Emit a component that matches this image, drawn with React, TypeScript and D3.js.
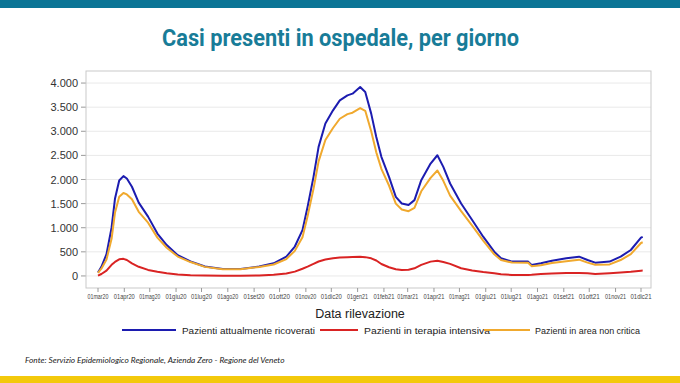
import React from "react";
import * as d3 from "d3";

const dates = [
  "2020-03-01","2020-03-05","2020-03-11","2020-03-17","2020-03-21","2020-03-26","2020-03-31","2020-04-04","2020-04-10","2020-04-18",
  "2020-04-29","2020-05-10","2020-05-21","2020-06-03","2020-06-18","2020-07-05","2020-07-26","2020-08-16","2020-09-07","2020-09-24",
  "2020-10-09","2020-10-19","2020-10-28","2020-11-03","2020-11-10","2020-11-16","2020-11-24","2020-12-03","2020-12-11","2020-12-20",
  "2020-12-26","2021-01-04","2021-01-10","2021-01-17","2021-01-23","2021-01-29","2021-02-07","2021-02-15","2021-02-22","2021-03-02",
  "2021-03-09","2021-03-17","2021-03-28","2021-04-05","2021-04-12","2021-04-20","2021-05-03","2021-05-16","2021-05-29","2021-06-11",
  "2021-06-19","2021-07-02","2021-07-21","2021-07-25","2021-08-05","2021-08-18","2021-09-04","2021-09-19","2021-09-29","2021-10-08",
  "2021-10-25","2021-11-07","2021-11-19","2021-12-01","2021-12-03"
];

const ricoverati = [
  70,190,450,1000,1600,1980,2070,2020,1850,1520,
  1230,880,640,430,300,195,145,145,195,262,
  400,610,950,1430,2055,2676,3160,3434,3640,3745,
  3780,3917,3814,3366,2883,2470,2055,1640,1503,1470,
  1572,1986,2331,2503,2262,1917,1503,1159,814,503,
  366,297,297,228,262,317,366,400,331,276,
  297,400,538,793,810
];

const terapiaIntensiva = [
  5,40,110,230,290,345,355,330,260,190,
  125,85,55,28,12,7,5,6,8,25,
  50,90,150,193,250,300,340,366,380,390,
  395,400,390,366,320,248,180,140,124,128,
  159,230,297,317,290,250,160,115,80,55,
  35,20,22,25,38,50,62,62,55,42,
  58,70,85,110,112
];

const areaNonCritica = [
  65,150,340,770,1310,1640,1720,1690,1590,1330,
  1105,795,585,402,288,188,140,139,187,237,
  350,520,800,1237,1805,2376,2820,3068,3260,3355,
  3385,3480,3424,3000,2563,2222,1875,1500,1379,1342,
  1413,1756,2034,2186,1972,1667,1343,1044,734,448,
  331,277,275,203,224,267,304,338,276,234,
  239,330,453,683,698
];

const yTicks = [0, 500, 1000, 1500, 2000, 2500, 3000, 3500, 4000];
const xTickLabels = [
  "01mar20","01apr20","01mag20","01giu20","01lug20","01ago20","01set20","01ott20","01nov20","01dic20","01gen21",
  "01feb21","01mar21","01apr21","01mag21","01giu21","01lug21","01ago21","01set21","01ott21","01nov21","01dic21"
];

const seriesNames = ["Pazienti attualmente ricoverati", "Pazienti in terapia intensiva", "Pazienti in area non critica"];
const seriesColors = ["#1c1cb0", "#d92323", "#f0a92e"];

const W = 680, H = 383;
const frame = { left: 86, right: 651, top: 71, bottom: 288 };

export default function App() {
  const parse = d3.timeParse("%Y-%m-%d");
  const xDates = dates.map((d) => parse(d) as Date);
  const x = d3.scaleTime()
    .domain([new Date(2020, 2, 1), new Date(2021, 11, 1)])
    .range([98, 641]);
  const y = d3.scaleLinear().domain([-250, 4250]).range([frame.bottom, frame.top]);
  const tickDates = xTickLabels.map((_, i) => new Date(2020, 2 + i, 1));
  const fmt = d3.formatLocale({ decimal: ",", thousands: ".", grouping: [3], currency: ["€", ""] }).format(",d");

  const line = d3.line<number>()
    .x((_, i) => x(xDates[i]))
    .y((v) => y(v))
    .curve(d3.curveLinear);

  const series = [ricoverati, terapiaIntensiva, areaNonCritica];
  const drawOrder = [0, 2, 1];

  const legendItems = [
    { x1: 122, x2: 176, tx: 182, len: 133 },
    { x1: 320, x2: 358, tx: 364, len: 126 },
    { x1: 484, x2: 530, tx: 535, len: 105 },
  ];

  return (
    <svg width={W} height={H} style={{ position: "absolute", left: 0, top: 0, background: "#fff" }}>
      <rect x={0} y={0} width={W} height={H} fill="#fff" />
      <rect x={0} y={0} width={W} height={8} fill="#0b7596" />
      <text x={162} y={46} textLength={357} lengthAdjust="spacingAndGlyphs" fontFamily="Roboto, sans-serif" fontWeight="bold" fontSize={23} fill="#187c98">
        Casi presenti in ospedale, per giorno
      </text>

      {yTicks.map((t) => (
        <g key={t}>
          <line x1={frame.left} x2={frame.right} y1={y(t)} y2={y(t)} stroke="#e9e9e9" strokeWidth={1} />
          <line x1={81} x2={frame.left} y1={y(t)} y2={y(t)} stroke="#9a9a9a" strokeWidth={1} />
          <text x={78} y={y(t) + 4} textAnchor="end" fontFamily="Arial, 'Liberation Sans', sans-serif" fontSize={11} fill="#333">
            {fmt(t)}
          </text>
        </g>
      ))}
      <rect x={frame.left} y={frame.top} width={frame.right - frame.left} height={frame.bottom - frame.top} fill="none" stroke="#c9c9c9" strokeWidth={1} />

      {tickDates.map((d, i) => (
        <g key={i}>
          <line x1={x(d)} x2={x(d)} y1={frame.bottom} y2={frame.bottom + 4} stroke="#9a9a9a" strokeWidth={1} />
          <text x={x(d) - 10.5} y={299} textLength={21} lengthAdjust="spacingAndGlyphs" fontFamily="Arial, 'Liberation Sans', sans-serif" fontSize={6.5} fill="#444">
            {xTickLabels[i]}
          </text>
        </g>
      ))}

      {drawOrder.map((k) => (
        <path key={k} d={line(series[k]) || ""} fill="none" stroke={seriesColors[k]} strokeWidth={2} strokeLinejoin="round" />
      ))}

      <text x={360} y={318} textAnchor="middle" fontFamily="Arial, 'Liberation Sans', sans-serif" fontSize={12.5} fill="#222">
        Data rilevazione
      </text>

      {legendItems.map((it, i) => (
        <g key={i}>
          <line x1={it.x1} x2={it.x2} y1={330} y2={330} stroke={seriesColors[i]} strokeWidth={2} />
          <text x={it.tx} y={333.5} textLength={it.len} lengthAdjust="spacingAndGlyphs" fontFamily="Arial, 'Liberation Sans', sans-serif" fontSize={9.5} fill="#222">
            {seriesNames[i]}
          </text>
        </g>
      ))}

      <text x={25} y={363} fontFamily="Lato, 'Open Sans', sans-serif" fontStyle="italic" fontSize={8.3} fill="#222">
        Fonte: Servizio Epidemiologico Regionale, Azienda Zero - Regione del Veneto
      </text>
      <rect x={0} y={376} width={W} height={7} fill="#f3c90c" />
    </svg>
  );
}
